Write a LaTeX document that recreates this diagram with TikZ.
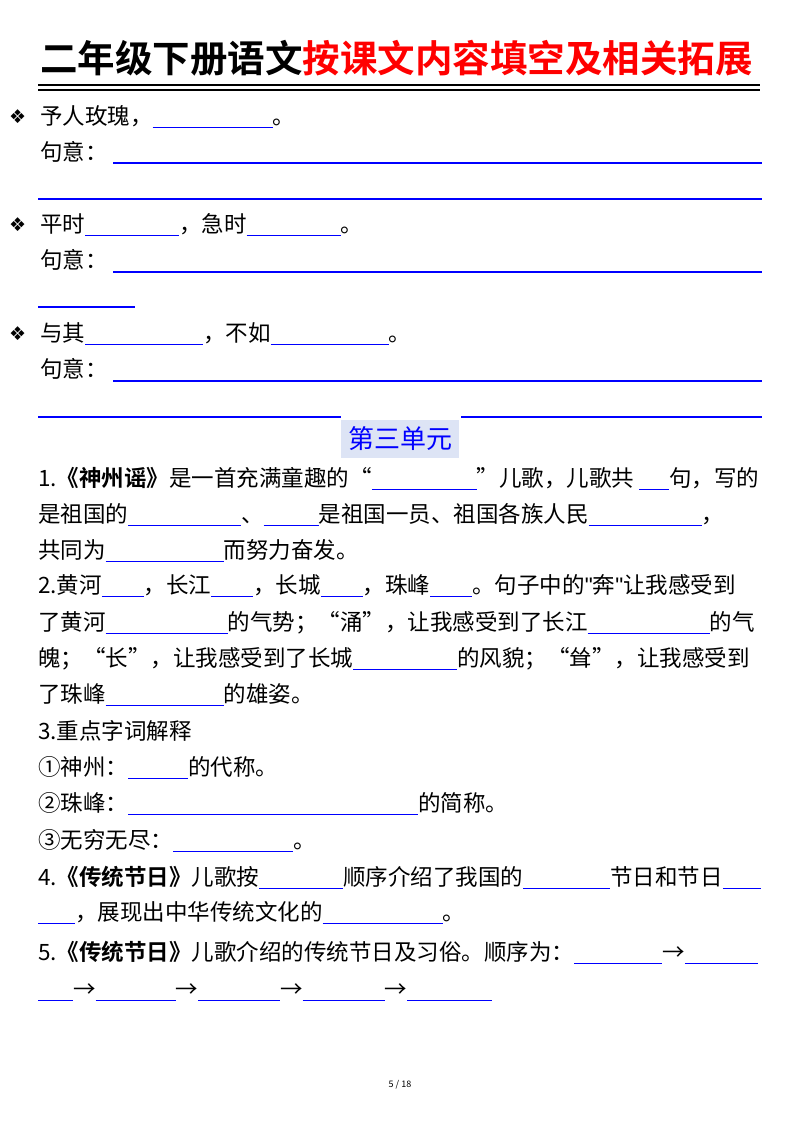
\documentclass[tikz,border=0pt]{standalone}
\usepackage{fontspec}
\setmainfont{Noto Sans CJK SC}
\newfontfamily\dejavu{DejaVu Sans}
\newfontfamily\lib{Liberation Sans}
\newfontfamily\cjkb{Noto Sans CJK SC Bold}
\newcommand{\bl}[1]{{\color{blue}\rule[-4pt]{#1pt}{1.2pt}}}
\begin{document}
\begin{tikzpicture}[x=1pt,y=-1pt,
  txt/.style={anchor=base west,inner sep=0pt,font=\fontsize{22.5}{26}\selectfont},
  bul/.style={anchor=base west,inner sep=0pt,font=\dejavu\bfseries\fontsize{19}{20}\selectfont},
  ul/.style={blue,line width=1.2pt}]
\useasboundingbox (0,0) rectangle (800,1132);
% title
\node[anchor=base west,inner sep=0pt,font=\cjkb\fontsize{37.5}{40}\selectfont] (title) at (40,72) {二年级下册语文\textcolor{red}{按课文内容填空及相关拓展}};
\coordinate (tl1) at (38,85); \coordinate (tr1) at (760,85);
\coordinate (tl2) at (38,90); \coordinate (tr2) at (760,90);
\draw[line width=2.5pt] (tl1) -- (tr1);
\draw[line width=1.3pt] (tl2) -- (tr2);
% bullets
\node[bul] (b1) at (9,123) {❖};
\node[txt] (s1) at (40,124) {予人玫瑰，\bl{120}。};
\node[txt] (y1) at (40,160) {句意：};
\coordinate (a1) at (113,163); \coordinate (a2) at (762,163);
\draw[ul] (a1) -- (a2);
\coordinate (a3) at (38,199); \coordinate (a4) at (762,199);
\draw[ul] (a3) -- (a4);
\node[bul] (b2) at (9,231) {❖};
\node[txt] (s2) at (40,232) {平时\bl{94}，急时\bl{94}。};
\node[txt] (y2) at (40,268) {句意：};
\coordinate (a5) at (113,272); \coordinate (a6) at (762,272);
\draw[ul] (a5) -- (a6);
\coordinate (a7) at (38,307); \coordinate (a8) at (135,307);
\draw[ul] (a7) -- (a8);
\node[bul] (b3) at (9,340) {❖};
\node[txt] (s3) at (40,341) {与其\bl{118}，不如\bl{118}。};
\node[txt] (y3) at (40,377) {句意：};
\coordinate (a9) at (113,381); \coordinate (a10) at (762,381);
\draw[ul] (a9) -- (a10);
\coordinate (a11) at (38,417); \coordinate (a12) at (341,417);
\coordinate (a13) at (461,417); \coordinate (a14) at (762,417);
\draw[ul] (a11) -- (a12); \draw[ul] (a13) -- (a14);
% header
\node[fill={rgb,255:red,221;green,228;blue,245},minimum width=118pt,minimum height=38pt,inner sep=0pt,text=blue,font=\fontsize{26}{28}\selectfont] (hdr) at (400,439) {第三单元};
% section
\node[txt] (l1) at (38,486) {1.{\cjkb《神州谣》}是一首充满童趣的“\bl{105}”儿歌，儿歌共 \bl{30}句，写的};
\node[txt] (l2) at (38,522) {是祖国的\bl{113}、\bl{55}是祖国一员、祖国各族人民\bl{113}，};
\node[txt] (l3) at (38,558) {共同为\bl{118}而努力奋发。};
\node[txt] (l4) at (38,593) {2.黄河\bl{42}，长江\bl{42}，长城\bl{42}，珠峰\bl{42}。句子中的{\lib"}奔{\lib"}让我感受到};
\node[txt] (l5) at (38,630) {了黄河\bl{122}的气势；“涌”，让我感受到了长江\bl{122}的气};
\node[txt] (l6) at (38,666) {魄；“长”，让我感受到了长城\bl{104}的风貌；“耸”，让我感受到};
\node[txt] (l7) at (38,702) {了珠峰\bl{118}的雄姿。};
\node[txt] (l8) at (38,739) {3.重点字词解释};
\node[txt] (l9) at (38,775) {①神州：\bl{60}的代称。};
\node[txt] (l10) at (38,811) {②珠峰：\bl{290}的简称。};
\node[txt] (l11) at (38,848) {③无穷无尽：\bl{120}。};
\node[txt] (l12) at (38,885) {4.{\cjkb《传统节日》}儿歌按\bl{84}顺序介绍了我国的\bl{87}节日和节日\bl{38}};
\node[txt] (l13) at (38,920) {\bl{37}，展现出中华传统文化的\bl{120}。};
\node[txt] (l14) at (38,960) {5.{\cjkb《传统节日》}儿歌介绍的传统节日及习俗。顺序为：\bl{88}→\bl{73}};
\node[txt] (l15) at (38,997) {\bl{35}→\bl{80}→\bl{82}→\bl{82}→\bl{85}};
\node[font=\fontsize{9}{10}\selectfont] (foot) at (400,1085) {5 / 18};
\end{tikzpicture}
\end{document}
